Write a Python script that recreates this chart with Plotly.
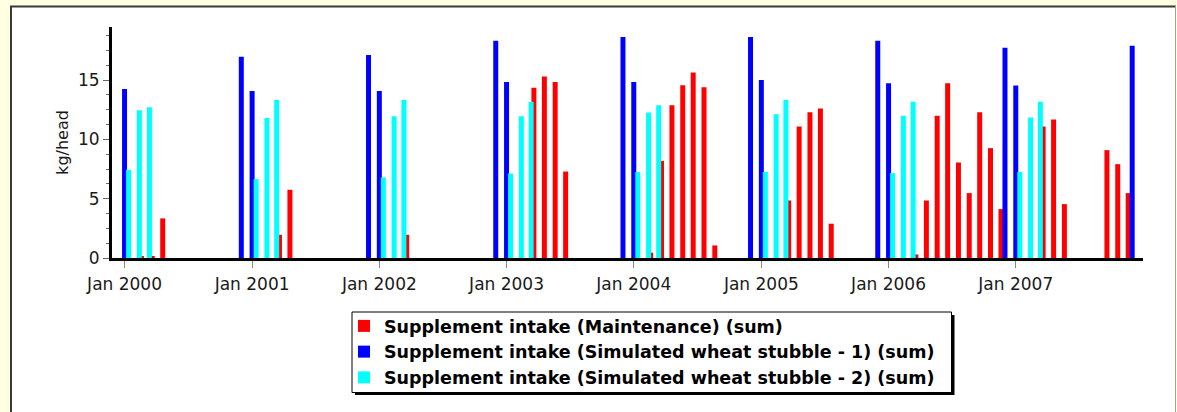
import plotly.graph_objects as go

# ---------------- data ----------------
tick_dates = ["2000-01-01", "2001-01-01", "2002-01-01", "2003-01-01",
              "2004-01-01", "2005-01-01", "2006-01-01", "2007-01-01"]
tick_labels = ["Jan 2000", "Jan 2001", "Jan 2002", "Jan 2003",
               "Jan 2004", "Jan 2005", "Jan 2006", "Jan 2007"]

maint_months = ["2000-03-01", "2000-04-01", "2000-05-01",
                "2001-04-01", "2001-05-01",
                "2002-04-01",
                "2003-04-01", "2003-05-01", "2003-06-01", "2003-07-01",
                "2004-03-01", "2004-04-01", "2004-05-01", "2004-06-01", "2004-07-01", "2004-08-01", "2004-09-01",
                "2005-04-01", "2005-05-01", "2005-06-01", "2005-07-01", "2005-08-01",
                "2006-04-01", "2006-05-01", "2006-06-01", "2006-07-01", "2006-08-01", "2006-09-01",
                "2006-10-01", "2006-11-01", "2006-12-01",
                "2007-04-01", "2007-05-01", "2007-06-01", "2007-10-01", "2007-11-01", "2007-12-01"]
maint_values = [0.15, 0.15, 3.34,
                1.96, 5.75,
                1.96,
                14.36, 15.29, 14.84, 7.29,
                0.45, 8.19, 12.88, 14.56, 15.63, 14.39, 1.06,
                4.85, 11.08, 12.29, 12.6, 2.89,
                0.3, 4.85, 11.98, 14.73, 8.05, 5.47,
                12.29, 9.26, 4.12,
                11.08, 11.67, 4.54, 9.09, 7.91, 5.47]

ws1_months = ["2000-01-01", "2000-12-01", "2001-01-01", "2001-12-01", "2002-01-01",
              "2002-12-01", "2003-01-01", "2003-12-01", "2004-01-01", "2004-12-01",
              "2005-01-01", "2005-12-01", "2006-01-01", "2006-12-01", "2007-01-01",
              "2007-12-01"]
ws1_values = [14.25, 16.97, 14.08, 17.1, 14.08,
              18.32, 14.84, 18.63, 14.84, 18.63,
              15.01, 18.32, 14.73, 17.73, 14.53,
              17.9]

ws2_months = ["2000-01-01", "2000-02-01", "2000-03-01",
              "2001-01-01", "2001-02-01", "2001-03-01",
              "2002-01-01", "2002-02-01", "2002-03-01",
              "2003-01-01", "2003-02-01", "2003-03-01",
              "2004-01-01", "2004-02-01", "2004-03-01",
              "2005-01-01", "2005-02-01", "2005-03-01",
              "2006-01-01", "2006-02-01", "2006-03-01",
              "2007-01-01", "2007-02-01", "2007-03-01"]
ws2_values = [7.43, 12.45, 12.7,
              6.65, 11.81, 13.32,
              6.79, 11.95, 13.32,
              7.12, 11.95, 13.18,
              7.24, 12.26, 12.88,
              7.26, 12.12, 13.32,
              7.15, 11.98, 13.18,
              7.26, 11.84, 13.18]

series_names = ["Supplement intake (Maintenance) (sum)",
                "Supplement intake (Simulated wheat stubble - 1) (sum)",
                "Supplement intake (Simulated wheat stubble - 2) (sum)"]

# ---------------- layout geometry ----------------
W_PX, H_PX = 1177, 412
L, R, T, B = 112, 34, 27, 154
PW, PH = W_PX - L - R, H_PX - T - B

def px_x(p):
    return (p - L) / PW

def px_y(p):
    return 1 - (p - T) / PH

DAY = 86400000
bar_w = 14.3 * DAY
shift = 11.5 * DAY

fig = go.Figure()
specs = [
    (maint_months, maint_values, series_names[0], "#FF0000", -shift),
    (ws1_months, ws1_values, series_names[1], "#0000FF", 0),
    (ws2_months, ws2_values, series_names[2], "#00FFFF", shift),
]
for months, vals, name, color, off in specs:
    fig.add_trace(go.Bar(
        x=months, y=vals, name=name,
        marker=dict(color=color, line=dict(width=0)),
        width=bar_w, offset=off - bar_w / 2,
    ))

font_family = "DejaVu Sans, Verdana, sans-serif"

fig.update_layout(
    width=W_PX, height=H_PX,
    margin=dict(l=L, r=R, t=T, b=B, pad=0),
    barmode="overlay",
    paper_bgcolor="#FFFFE1",
    plot_bgcolor="#FFFFFF",
    font=dict(family=font_family, color="#1a1a1a"),
    showlegend=True,
    legend=dict(
        x=px_x(344), y=px_y(308), xanchor="left", yanchor="top",
        bgcolor="rgba(0,0,0,0)", borderwidth=0,
        font=dict(size=17.5, color="#000000", family=font_family, weight="bold"),
        itemwidth=30, traceorder="normal",
    ),
    xaxis=dict(
        type="date",
        range=["1999-11-26", "2008-01-01"],
        tickmode="array", tickvals=tick_dates, ticktext=tick_labels,
        ticks="outside", ticklen=7, tickcolor="#888888", tickwidth=1,
        tickfont=dict(size=17, color="#1a1a1a"),
        ticklabelstandoff=2,
        showline=True, linecolor="#000000", linewidth=3,
        showgrid=False, zeroline=False,
    ),
    yaxis=dict(
        range=[0, 19.47],
        tickmode="array", tickvals=[0, 5, 10, 15],
        ticks="outside", ticklen=6, tickcolor="#666666", tickwidth=1,
        minor=dict(dtick=1.25, tick0=0, ticks="outside", ticklen=3, tickcolor="#666666", showgrid=False),
        tickfont=dict(size=17, color="#1a1a1a"),
        showline=True, linecolor="#000000", linewidth=3,
        showgrid=False, zeroline=False,
        title=dict(text="kg/head", font=dict(size=16, color="#1a1a1a"), standoff=6),
    ),
    shapes=[
        # white panel with border
        dict(type="rect", xref="paper", yref="paper",
             x0=px_x(11), x1=px_x(1175), y0=px_y(425), y1=px_y(7),
             fillcolor="#FFFFFF", line=dict(width=0), layer="below"),
        dict(type="line", xref="paper", yref="paper",
             x0=px_x(10), x1=px_x(1176), y0=px_y(6.5), y1=px_y(6.5),
             line=dict(color="#3a3a3a", width=2), layer="below"),
        dict(type="line", xref="paper", yref="paper",
             x0=px_x(11), x1=px_x(11), y0=px_y(6), y1=px_y(425),
             line=dict(color="#3a3a3a", width=2), layer="below"),
        dict(type="line", xref="paper", yref="paper",
             x0=px_x(1175.5), x1=px_x(1175.5), y0=px_y(6), y1=px_y(425),
             line=dict(color="#a0a0a0", width=1), layer="below"),
        # legend shadow and box
        dict(type="rect", xref="paper", yref="paper",
             x0=px_x(355), x1=px_x(954.5), y0=px_y(395), y1=px_y(315),
             fillcolor="#000000", line=dict(width=0), layer="above"),
        dict(type="rect", xref="paper", yref="paper",
             x0=px_x(352), x1=px_x(951.5), y0=px_y(392.5), y1=px_y(312),
             fillcolor="#FFFFFF", line=dict(color="#000000", width=1), layer="above"),
    ],
)

fig.write_html("out.html", config={"displayModeBar": False},
               post_script="document.body.style.margin='0px';")
